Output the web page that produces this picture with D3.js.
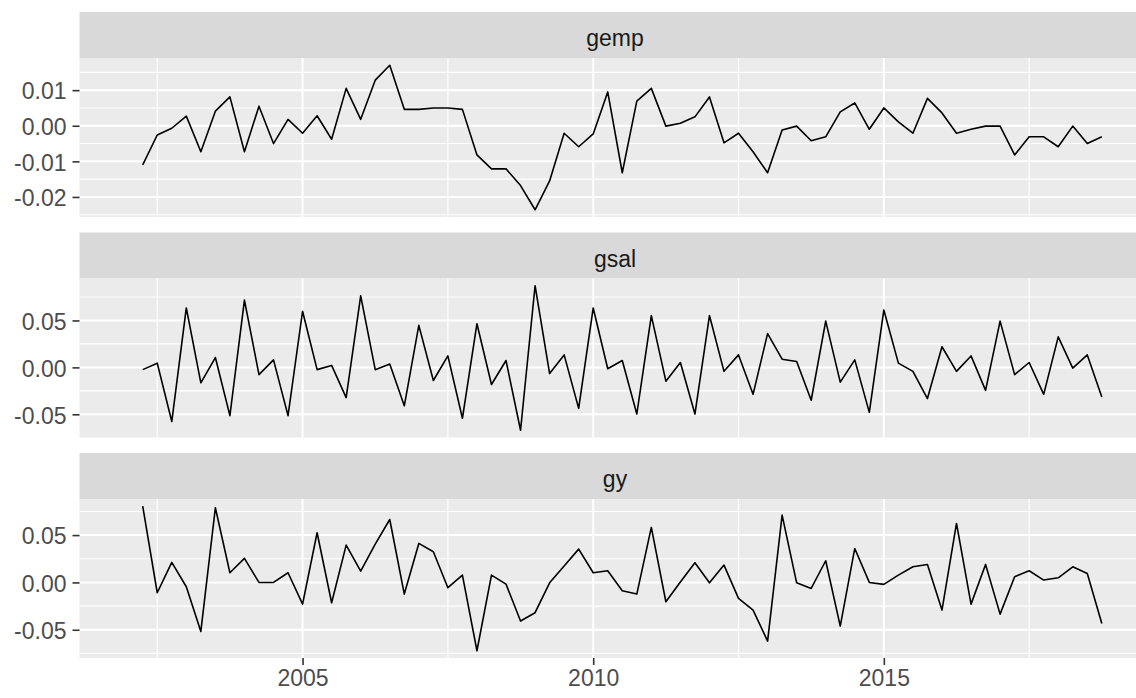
<!DOCTYPE html>
<html lang="en">
  <head>
    <meta charset="UTF-8">
    <title>gemp gsal gy</title>
    <style>
    * { box-sizing: border-box; margin: 0; padding: 0; }
    body { background: #fff; }
    svg { display: block; }
    .strip rect { fill: #d9d9d9; }
    .strip text { fill: #1a1a1a; font: 23px "Liberation Sans", Arial, sans-serif; text-anchor: middle; }
    .bg { fill: #ebebeb; }
    .grid-major { stroke: #fff; stroke-width: 2; }
    .grid-minor { stroke: #fff; stroke-width: 1.1; }
    .axis text { fill: #4d4d4d; font: 23px "Liberation Sans", Arial, sans-serif; }
    .axis line { stroke: #333; stroke-width: 1.6; }
    .series { fill: none; stroke: #000; stroke-width: 1.6; stroke-linejoin: round; }
    </style>
  </head>
  <body>
    <svg width="1136" height="698"></svg>
    <script src="https://d3js.org/d3.v7.min.js"></script>
    <script>
      // quarterly observations, first quarter 2002 Q1 (growth is NA there)
      const startYear = 2002;
      const step = 0.25;
      const panelNames = ["gemp", "gsal", "gy"];

      const gemp = [null,
        -0.0110, -0.0026, -0.0007, 0.0027, -0.0073, 0.0041, 0.0081, -0.0073, 0.0055, -0.0050,
        0.0018, -0.0021, 0.0028, -0.0038, 0.0105, 0.0018, 0.0128, 0.0170, 0.0046, 0.0046,
        0.0050, 0.0050, 0.0046, -0.0082, -0.0121, -0.0121, -0.0168, -0.0236, -0.0155, -0.0021,
        -0.0059, -0.0023, 0.0095, -0.0132, 0.0069, 0.0105, -0.0001, 0.0007, 0.0025, 0.0081,
        -0.0048, -0.0021, -0.0073, -0.0132, -0.0012, -0.0001, -0.0042, -0.0031, 0.0039, 0.0064,
        -0.0010, 0.0050, 0.0011, -0.0021, 0.0077, 0.0036, -0.0021, -0.0010, -0.0001, -0.0001,
        -0.0082, -0.0031, -0.0031, -0.0059, -0.0001, -0.0050, -0.0031];

      const gsal = [null,
        -0.0024, 0.0045, -0.0577, 0.0633, -0.0164, 0.0105, -0.0514, 0.0717, -0.0077, 0.0080,
        -0.0514, 0.0598, -0.0024, 0.0021, -0.0322, 0.0762, -0.0024, 0.0035, -0.0409, 0.0448,
        -0.0140, 0.0122, -0.0542, 0.0465, -0.0182, 0.0073, -0.0670, 0.0870, -0.0066, 0.0133,
        -0.0437, 0.0633, -0.0014, 0.0073, -0.0497, 0.0552, -0.0147, 0.0052, -0.0497, 0.0552,
        -0.0042, 0.0133, -0.0287, 0.0360, 0.0087, 0.0063, -0.0350, 0.0493, -0.0157, 0.0080,
        -0.0479, 0.0612, 0.0045, -0.0042, -0.0332, 0.0220, -0.0042, 0.0122, -0.0245, 0.0493,
        -0.0077, 0.0052, -0.0287, 0.0325, -0.0007, 0.0133, -0.0315];

      const gy = [null,
        0.0805, -0.0109, 0.0211, -0.0046, -0.0518, 0.0789, 0.0102, 0.0254, 0.0000, 0.0000,
        0.0102, -0.0229, 0.0525, -0.0215, 0.0394, 0.0120, 0.0405, 0.0665, -0.0123, 0.0412,
        0.0324, -0.0056, 0.0077, -0.0722, 0.0077, -0.0018, -0.0408, -0.0320, -0.0004, 0.0173,
        0.0352, 0.0102, 0.0123, -0.0088, -0.0123, 0.0581, -0.0204, 0.0004, 0.0208, -0.0004,
        0.0183, -0.0169, -0.0292, -0.0620, 0.0711, -0.0004, -0.0063, 0.0229, -0.0461, 0.0359,
        0.0000, -0.0021, 0.0077, 0.0165, 0.0190, -0.0292, 0.0623, -0.0229, 0.0190, -0.0335,
        0.0060, 0.0123, 0.0025, 0.0049, 0.0165, 0.0095, -0.0433];

      const xTickValues = [2005, 2010, 2015];

      const seriesList = [gemp, gsal, gy];
      const times = gemp.map((_, i) => startYear + i * step);

      const plotLeft = 79.5, plotWidth = 1071;
      const plotTop = 12, stripH = 46, panelH = 159, gap = 15.5;

      const svg = d3.select("svg");
      const fmt = d3.formatLocale({ decimal: ".", thousands: ",", grouping: [3], currency: ["", ""], minus: "-" }).format(".2f");

      // ggplot style expansion: 5% each side
      function expand(ext) {
        const pad = (ext[1] - ext[0]) * 0.05;
        return [ext[0] - pad, ext[1] + pad];
      }

      const x = d3.scaleLinear().domain(expand(d3.extent(times))).range([plotLeft, plotLeft + plotWidth]);
      const xMinor = xTickValues.map(v => v - 2.5).concat([xTickValues[xTickValues.length - 1] + 2.5]);

      seriesList.forEach((values, p) => {
        const sTop = plotTop + p * (stripH + panelH + gap);
        const pTop = sTop + stripH;
        const pBottom = pTop + panelH;

        const y = d3.scaleLinear()
          .domain(expand(d3.extent(values.filter(v => v !== null))))
          .range([pBottom, pTop]);

        const [y0, y1] = y.domain();
        const tStep = d3.tickStep(y0, y1, 4);
        const yTicks = d3.range(Math.ceil(y0 / tStep), Math.floor(y1 / tStep) + 1).map(i => +(i * tStep).toFixed(10));
        const yMinor = d3.range(Math.floor(y0 / tStep), Math.ceil(y1 / tStep))
          .map(i => (i + 0.5) * tStep)
          .filter(v => v > y0 && v < y1);

        const strip = svg.append("g").attr("class", "strip");
        strip.append("rect").attr("x", plotLeft).attr("y", sTop).attr("width", plotWidth).attr("height", stripH);
        strip.append("text")
          .attr("x", plotLeft + plotWidth / 2)
          .attr("y", sTop + stripH / 2 + 11)
          .text(panelNames[p]);

        const g = svg.append("g");
        g.append("rect").attr("class", "bg")
          .attr("x", plotLeft).attr("y", pTop).attr("width", plotWidth).attr("height", panelH);

        g.selectAll(".ym").data(yMinor).enter().append("line")
          .attr("class", "grid-minor")
          .attr("x1", plotLeft).attr("x2", plotLeft + plotWidth)
          .attr("y1", d => y(d)).attr("y2", d => y(d));
        g.selectAll(".xm").data(xMinor.filter(v => v > x.domain()[0] && v < x.domain()[1])).enter().append("line")
          .attr("class", "grid-minor")
          .attr("y1", pTop).attr("y2", pBottom)
          .attr("x1", d => x(d)).attr("x2", d => x(d));
        g.selectAll(".yM").data(yTicks).enter().append("line")
          .attr("class", "grid-major")
          .attr("x1", plotLeft).attr("x2", plotLeft + plotWidth)
          .attr("y1", d => y(d)).attr("y2", d => y(d));
        g.selectAll(".xM").data(xTickValues).enter().append("line")
          .attr("class", "grid-major")
          .attr("y1", pTop).attr("y2", pBottom)
          .attr("x1", d => x(d)).attr("x2", d => x(d));

        const line = d3.line()
          .defined(d => d[1] !== null)
          .x(d => x(d[0]))
          .y(d => y(d[1]));
        g.append("path")
          .attr("class", "series")
          .attr("d", line(times.map((t, i) => [t, values[i]])));

        const yAxis = svg.append("g")
          .attr("class", "axis")
          .attr("transform", `translate(${plotLeft},0)`)
          .call(d3.axisLeft(y).tickValues(yTicks).tickFormat(fmt).tickSize(7).tickPadding(6));
        yAxis.select(".domain").remove();
        yAxis.selectAll("text").attr("dy", "0.38em");

        if (p === seriesList.length - 1) {
          const xAxis = svg.append("g")
            .attr("class", "axis")
            .attr("transform", `translate(0,${pBottom})`)
            .call(d3.axisBottom(x).tickValues(xTickValues).tickFormat(d3.format("d")).tickSize(7).tickPadding(5));
          xAxis.select(".domain").remove();
          xAxis.selectAll("text").attr("dy", "0.71em");
        }
      });
    </script>
  </body>
</html>
